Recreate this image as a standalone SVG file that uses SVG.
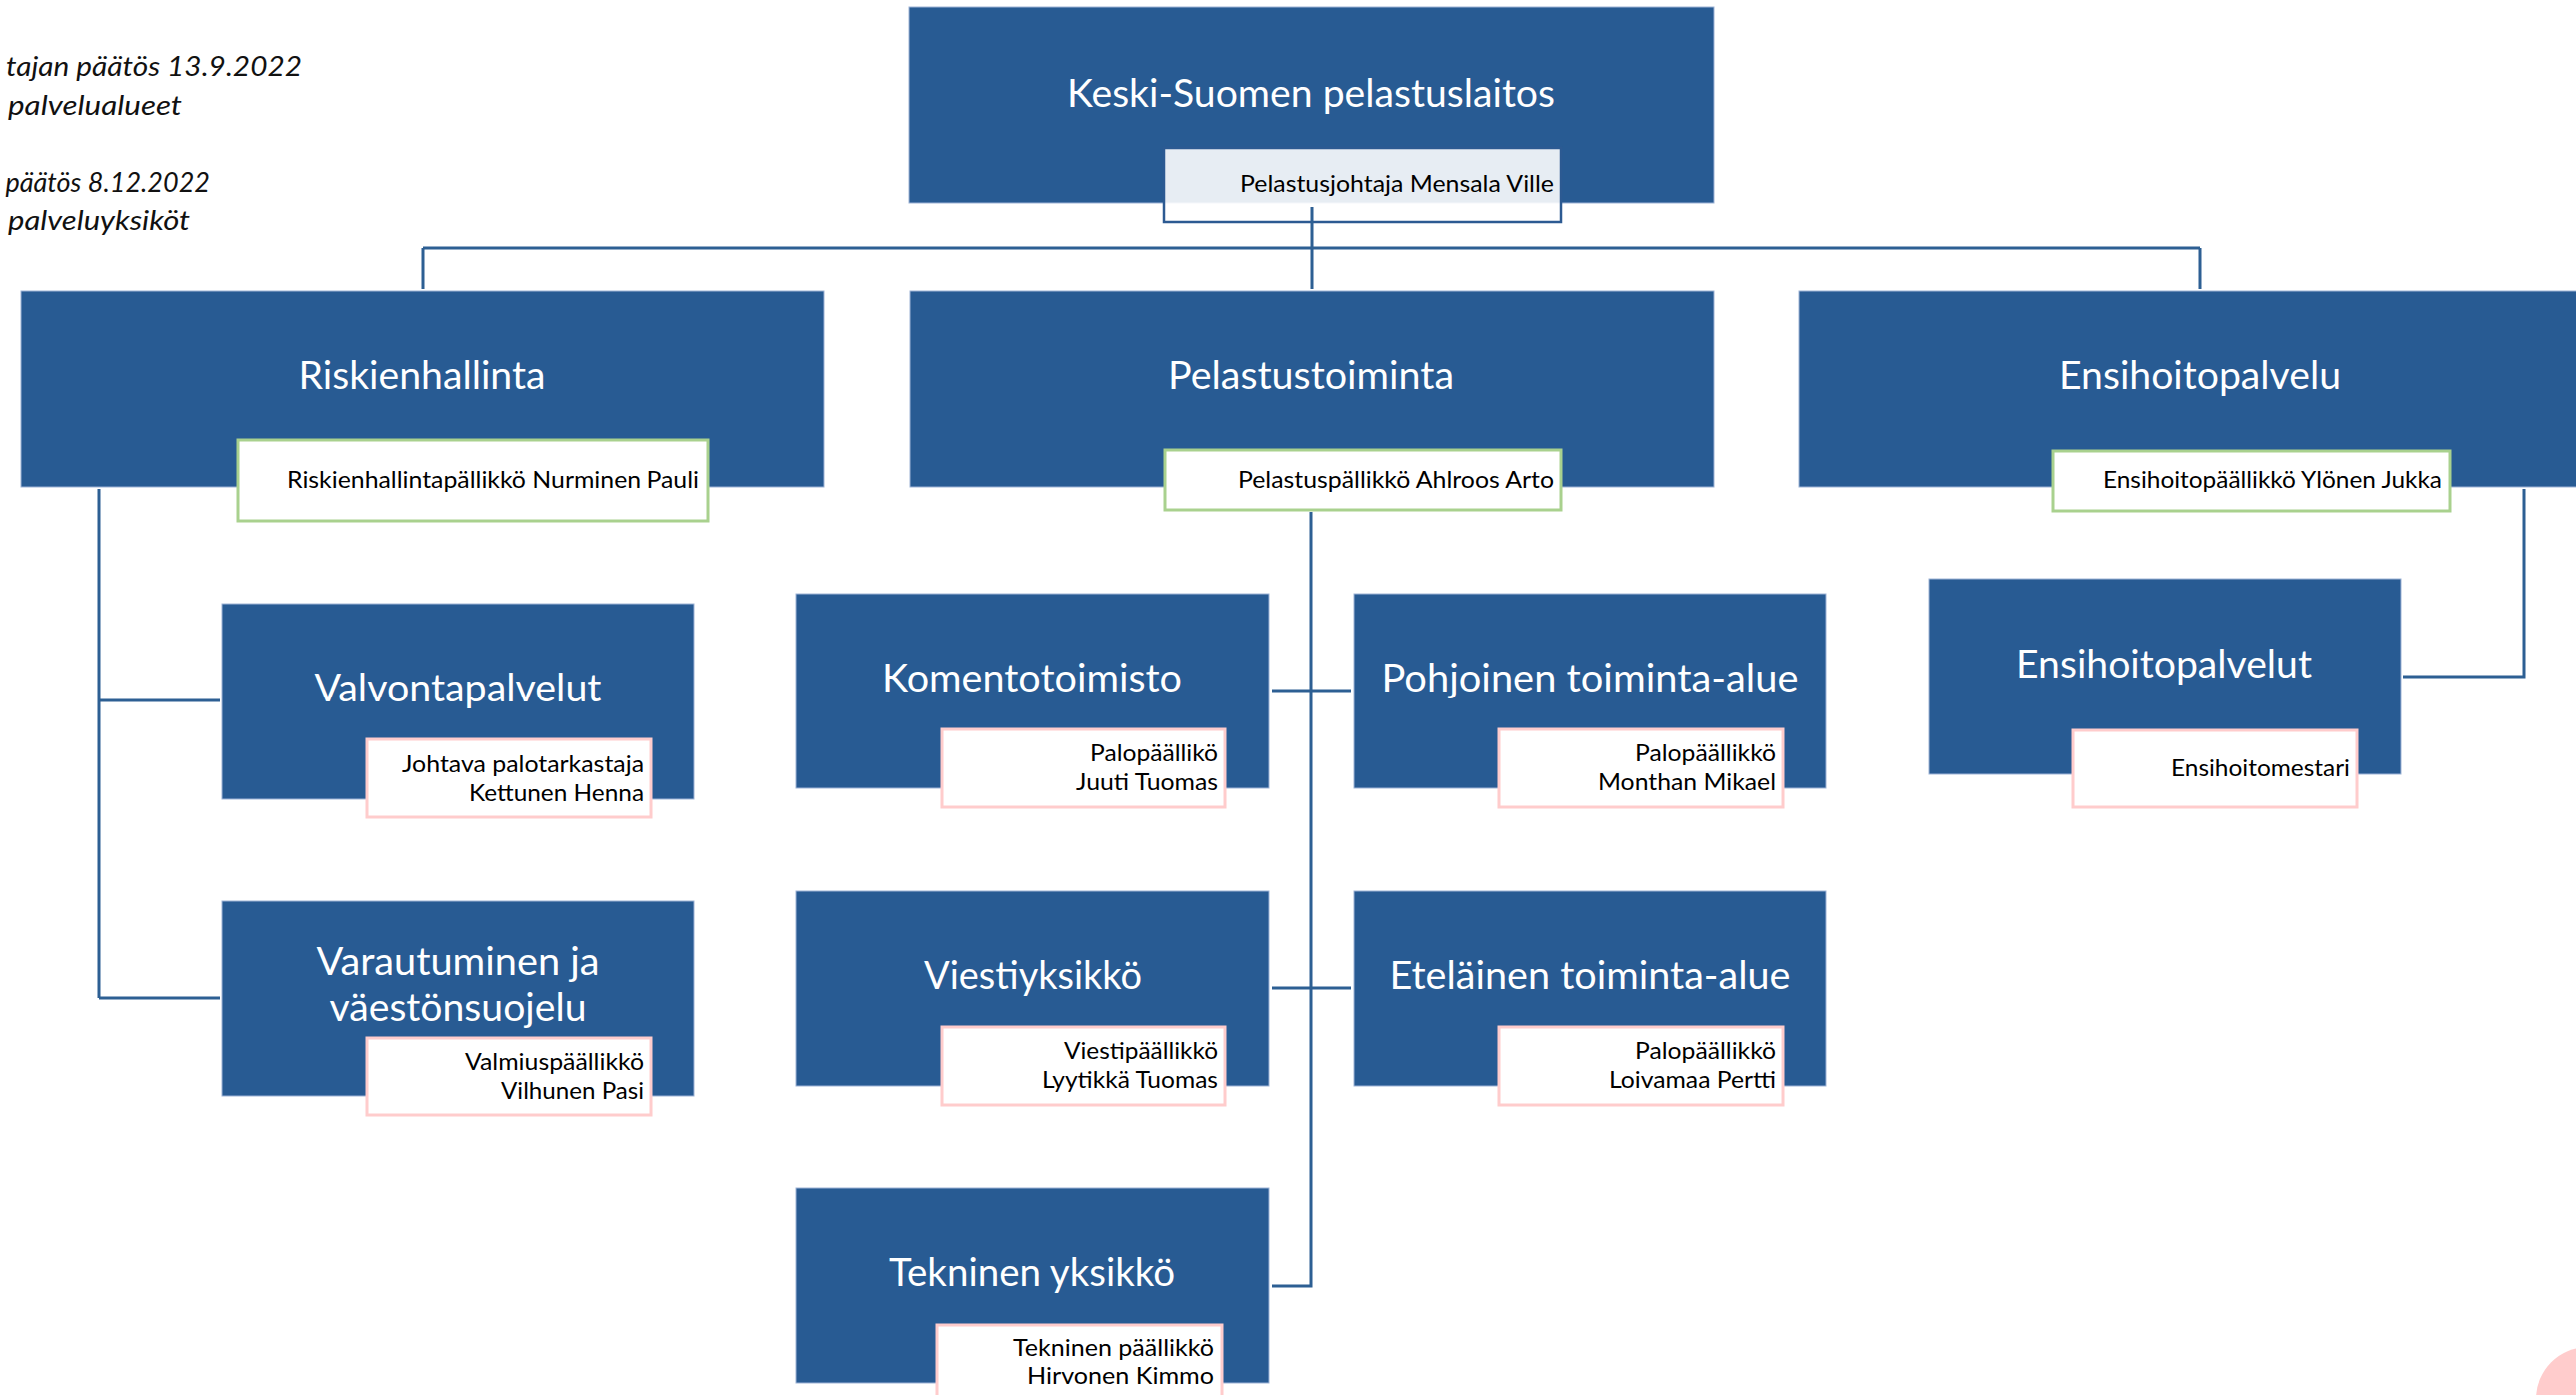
<svg xmlns="http://www.w3.org/2000/svg" width="2578" height="1396" viewBox="0 0 2578 1396">
<style>
.box{fill:#285B93;stroke:#9DB3D6;stroke-width:1}
.title{font-family:Lato,"Open Sans","Liberation Sans",sans-serif;font-size:38px;fill:#FFFFFF;text-anchor:middle}
.lab{font-family:Lato,"Open Sans","Liberation Sans",sans-serif;font-size:23px;fill:#000000;text-anchor:end}
.pink{fill:#FFFFFF;stroke:#FFCCCC;stroke-width:3}
.green{fill:#FFFFFF;stroke:#A9D18E;stroke-width:3}
.topl{fill:#FFFFFF;fill-opacity:0.89;stroke:#2C5A92;stroke-width:2.5}
.note{font-family:Lato,"Open Sans","Liberation Sans",sans-serif;font-size:27px;font-style:italic;fill:#111111}
.con{fill:none;stroke:#2D5F93;stroke-width:3}
</style>
<rect width="2578" height="1396" fill="#FFFFFF"/>
<g id="notes">
<text class="note" x="6" y="76" textLength="296" lengthAdjust="spacingAndGlyphs">tajan päätös 13.9.2022</text>
<text class="note" x="8" y="115" textLength="174" lengthAdjust="spacingAndGlyphs">palvelualueet</text>
<text class="note" x="210" y="192" text-anchor="end">päätös 8.12.2022</text>
<text class="note" x="8" y="230" textLength="182" lengthAdjust="spacingAndGlyphs">palveluyksiköt</text>
</g>
<g id="n-root">
<rect class="box" x="910" y="7" width="805" height="196"/>
<text class="title" x="1312" y="107" textLength="488" lengthAdjust="spacingAndGlyphs">Keski-Suomen pelastuslaitos</text>
<rect class="topl" x="1165" y="148" width="397" height="74"/>
<text class="lab" x="1555" y="192" textLength="314" lengthAdjust="spacingAndGlyphs">Pelastusjohtaja Mensala Ville</text>
</g>
<g id="n-riski">
<rect class="box" x="21" y="291" width="804" height="196"/>
<text class="title" x="422" y="389" textLength="247" lengthAdjust="spacingAndGlyphs">Riskienhallinta</text>
<rect class="green" x="238" y="440" width="471" height="81"/>
<text class="lab" x="700" y="488" textLength="413" lengthAdjust="spacingAndGlyphs">Riskienhallintapällikkö Nurminen Pauli</text>
</g>
<g id="n-pelastus">
<rect class="box" x="911" y="291" width="804" height="196"/>
<text class="title" x="1312" y="389" textLength="286" lengthAdjust="spacingAndGlyphs">Pelastustoiminta</text>
<rect class="green" x="1166" y="450" width="396" height="60"/>
<text class="lab" x="1555" y="488" textLength="316" lengthAdjust="spacingAndGlyphs">Pelastuspällikkö Ahlroos Arto</text>
</g>
<g id="n-ensihoito">
<rect class="box" x="1800" y="291" width="804" height="196"/>
<text class="title" x="2202" y="389" textLength="282" lengthAdjust="spacingAndGlyphs">Ensihoitopalvelu</text>
<rect class="green" x="2055" y="451" width="397" height="60"/>
<text class="lab" x="2444" y="488" textLength="339" lengthAdjust="spacingAndGlyphs">Ensihoitopäällikkö Ylönen Jukka</text>
</g>
<g id="n-valvonta">
<rect class="box" x="222" y="604" width="473" height="196"/>
<text class="title" x="458" y="702" textLength="287" lengthAdjust="spacingAndGlyphs">Valvontapalvelut</text>
<rect class="pink" x="367" y="740" width="285" height="78"/>
<text class="lab" x="644" y="773" textLength="242" lengthAdjust="spacingAndGlyphs">Johtava palotarkastaja</text>
<text class="lab" x="644" y="802" textLength="175" lengthAdjust="spacingAndGlyphs">Kettunen Henna</text>
</g>
<g id="n-varautuminen">
<rect class="box" x="222" y="902" width="473" height="195"/>
<text class="title" x="458" y="976" textLength="283" lengthAdjust="spacingAndGlyphs">Varautuminen ja</text>
<text class="title" x="458" y="1022" textLength="257" lengthAdjust="spacingAndGlyphs">väestönsuojelu</text>
<rect class="pink" x="367" y="1039" width="285" height="77"/>
<text class="lab" x="644" y="1071" textLength="179" lengthAdjust="spacingAndGlyphs">Valmiuspäällikkö</text>
<text class="lab" x="644" y="1100" textLength="143" lengthAdjust="spacingAndGlyphs">Vilhunen Pasi</text>
</g>
<g id="n-komento">
<rect class="box" x="797" y="594" width="473" height="195"/>
<text class="title" x="1033" y="692" textLength="300" lengthAdjust="spacingAndGlyphs">Komentotoimisto</text>
<rect class="pink" x="943" y="730" width="283" height="78"/>
<text class="lab" x="1219" y="762" textLength="128" lengthAdjust="spacingAndGlyphs">Palopäällikö</text>
<text class="lab" x="1219" y="791" textLength="142" lengthAdjust="spacingAndGlyphs">Juuti Tuomas</text>
</g>
<g id="n-pohjoinen">
<rect class="box" x="1355" y="594" width="472" height="195"/>
<text class="title" x="1591" y="692" textLength="417" lengthAdjust="spacingAndGlyphs">Pohjoinen toiminta-alue</text>
<rect class="pink" x="1500" y="730" width="284" height="78"/>
<text class="lab" x="1777" y="762" textLength="141" lengthAdjust="spacingAndGlyphs">Palopäällikkö</text>
<text class="lab" x="1777" y="791" textLength="178" lengthAdjust="spacingAndGlyphs">Monthan Mikael</text>
</g>
<g id="n-viesti">
<rect class="box" x="797" y="892" width="473" height="195"/>
<text class="title" x="1034" y="990" textLength="218" lengthAdjust="spacingAndGlyphs">Viestiyksikkö</text>
<rect class="pink" x="943" y="1028" width="283" height="78"/>
<text class="lab" x="1219" y="1060" textLength="154" lengthAdjust="spacingAndGlyphs">Viestipäällikkö</text>
<text class="lab" x="1219" y="1089" textLength="176" lengthAdjust="spacingAndGlyphs">Lyytikkä Tuomas</text>
</g>
<g id="n-etela">
<rect class="box" x="1355" y="892" width="472" height="195"/>
<text class="title" x="1591" y="990" textLength="401" lengthAdjust="spacingAndGlyphs">Eteläinen toiminta-alue</text>
<rect class="pink" x="1500" y="1028" width="284" height="78"/>
<text class="lab" x="1777" y="1060" textLength="141" lengthAdjust="spacingAndGlyphs">Palopäällikkö</text>
<text class="lab" x="1777" y="1089" textLength="167" lengthAdjust="spacingAndGlyphs">Loivamaa Pertti</text>
</g>
<g id="n-tekninen">
<rect class="box" x="797" y="1189" width="473" height="195"/>
<text class="title" x="1033" y="1287" textLength="286" lengthAdjust="spacingAndGlyphs">Tekninen yksikkö</text>
<rect class="pink" x="938" y="1326" width="285" height="80"/>
<text class="lab" x="1215" y="1357" textLength="201" lengthAdjust="spacingAndGlyphs">Tekninen päällikkö</text>
<text class="lab" x="1215" y="1385" textLength="187" lengthAdjust="spacingAndGlyphs">Hirvonen Kimmo</text>
</g>
<g id="n-ensihoitopalvelut">
<rect class="box" x="1930" y="579" width="473" height="196"/>
<text class="title" x="2166" y="678" textLength="296" lengthAdjust="spacingAndGlyphs">Ensihoitopalvelut</text>
<rect class="pink" x="2075" y="731" width="284" height="77"/>
<text class="lab" x="2352" y="777" textLength="179" lengthAdjust="spacingAndGlyphs">Ensihoitomestari</text>
</g>
<g id="connectors">
<path class="con" d="M1313 207V248M423 248H2202M423 248V289M1313 248V289M2202 248V289"/>
<path class="con" d="M99 489V999M99 701H220M99 999H220"/>
<path class="con" d="M1312 512V1287H1273M1273 691H1352M1273 989H1352"/>
<path class="con" d="M2526 489V677H2405"/>
</g>
<circle cx="2590" cy="1400" r="52" fill="#FFCCCC"/>
</svg>
